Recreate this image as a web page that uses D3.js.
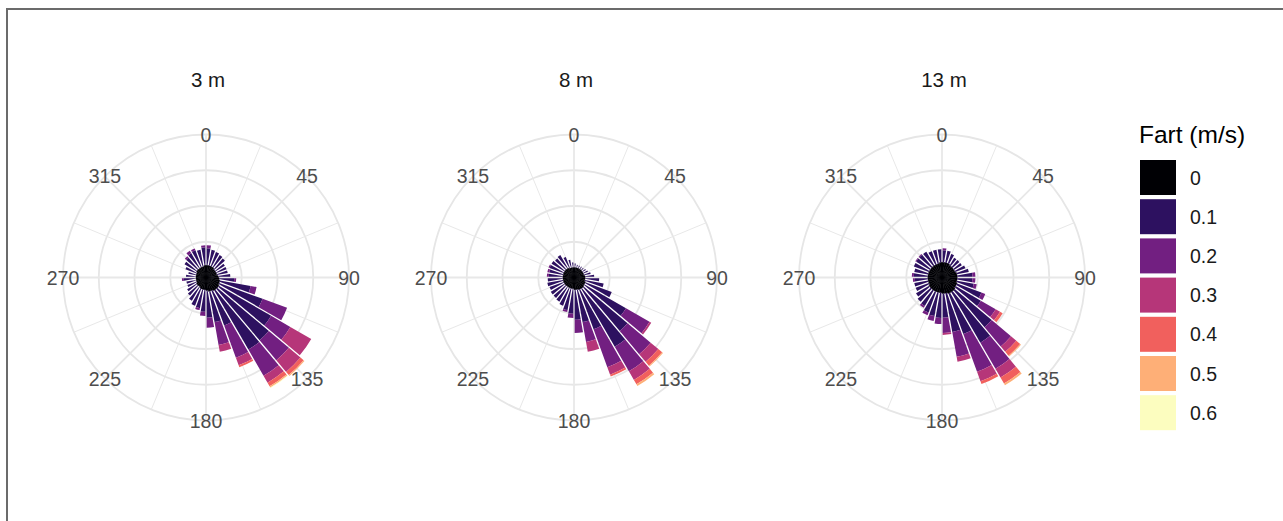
<!DOCTYPE html>
<html>
<head>
<meta charset="utf-8">
<script src="https://cdn.jsdelivr.net/npm/d3@7"></script>
<style>
  body { margin: 0; background: #fff; }
  text { font-family: "Liberation Sans", Arial, sans-serif; }
</style>
</head>
<body>
<svg id="chart" width="1283" height="521"></svg>
<script>
// direction bins (centre of each 10 degree sector)
const directions = d3.range(5, 360, 10);
const speedClasses = ["0", "0.1", "0.2", "0.3", "0.4", "0.5", "0.6"];
const speedColors = ["#000004", "#2d1160", "#721f81", "#b63679", "#f1605d", "#feaf77", "#fcfdbf"];
const panelTitles = ["3 m", "8 m", "13 m"];
const angleTicks = [0, 45, 90, 135, 180, 225, 270, 315];
const radialBreaks = [2, 4, 6, 8];

// share of observations (%) per direction bin, split by speed class 0, 0.1, ... 0.6
const freq3m = [
  [0.68, 0.96, 0.17], [0.68, 0.90], [0.68, 0.85], [0.68, 0.79], [0.62, 0.79], [0.62, 0.62],
  [0.62, 0.62], [0.62, 0.62], [0.68, 0.68], [0.73, 0.85, 0.11], [0.79, 1.75, 0.34], [0.79, 2.59, 1.46],
  [0.85, 3.38, 1.24, 1.35], [0.85, 3.77, 1.46, 0.85, 0.23, 0.06], [0.85, 3.83, 1.69, 0.45, 0.23, 0.08, 0.03],
  [0.79, 2.08, 1.92, 0.45, 0.11], [0.79, 1.75, 1.30, 0.39], [0.73, 1.52, 0.56],
  [0.68, 1.24, 0.23], [0.68, 1.07, 0.11], [0.68, 1.01], [0.62, 0.90], [0.62, 0.73], [0.62, 0.62],
  [0.56, 0.56], [0.56, 0.56], [0.56, 0.68, 0.11], [0.56, 0.56], [0.56, 0.45], [0.56, 0.68],
  [0.62, 0.79], [0.62, 0.85, 0.11], [0.62, 0.96, 0.17], [0.62, 1.01, 0.11], [0.62, 0.96], [0.68, 1.01, 0.11]
];
const freq8m = [
  [0.56, 0.23], [0.56, 0.17], [0.56, 0.17], [0.56, 0.17], [0.56, 0.17], [0.56, 0.23],
  [0.56, 0.28], [0.56, 0.39], [0.62, 0.51], [0.62, 0.79], [0.62, 1.07], [0.68, 1.58],
  [0.68, 2.70, 1.52, 0.11], [0.73, 3.21, 1.69, 0.56, 0.28, 0.06], [0.73, 3.77, 1.58, 0.56, 0.28, 0.11],
  [0.73, 2.37, 2.25, 0.45, 0.11], [0.68, 1.86, 1.13, 0.56], [0.68, 1.69, 0.73],
  [0.62, 1.41, 0.23], [0.62, 1.24, 0.11], [0.62, 1.07], [0.62, 0.96], [0.62, 0.90], [0.62, 0.90],
  [0.62, 0.85], [0.62, 0.90], [0.62, 0.85], [0.62, 0.79, 0.11], [0.62, 0.79, 0.11], [0.62, 0.85, 0.06],
  [0.62, 0.85], [0.62, 0.79], [0.62, 0.85], [0.56, 0.68], [0.56, 0.45], [0.56, 0.28]
];
const freq13m = [
  [0.85, 0.68, 0.11], [0.85, 0.68], [0.85, 0.56], [0.79, 0.51], [0.79, 0.51], [0.79, 0.51],
  [0.79, 0.62], [0.85, 0.68], [0.85, 0.85, 0.17], [0.85, 0.85, 0.17], [0.85, 0.96, 0.17], [0.90, 1.46, 0.23],
  [0.90, 1.63, 0.96, 0.28, 0.17], [0.96, 2.70, 1.41, 0.39, 0.28, 0.06], [0.96, 3.27, 1.69, 0.56, 0.39, 0.11],
  [0.96, 2.42, 2.25, 0.56, 0.17], [0.90, 2.20, 1.41, 0.28], [0.90, 1.35, 0.85, 0.11],
  [0.85, 1.41, 0.34], [0.85, 1.35, 0.28], [0.85, 1.24, 0.17], [0.85, 1.01, 0.11], [0.85, 0.96], [0.85, 0.85],
  [0.79, 0.79], [0.79, 0.79], [0.79, 0.73, 0.11], [0.79, 0.79, 0.11], [0.79, 0.79], [0.79, 0.90],
  [0.79, 0.90, 0.06], [0.79, 0.90, 0.06], [0.79, 0.90], [0.79, 0.79], [0.79, 0.79], [0.85, 0.73]
];
const panelData = [freq3m, freq8m, freq13m];

const svg = d3.select("#chart");
const toRad = d => d * Math.PI / 180;

// outer frame of the figure
svg.append("rect")
  .attr("x", 7).attr("y", 9)
  .attr("width", 1300).attr("height", 600)
  .attr("fill", "none")
  .attr("stroke", "#6b6b6b")
  .attr("stroke-width", 2);

const r = d3.scaleLinear().domain([0, 8]).range([0, 143]);
const color = d3.scaleOrdinal().domain(speedClasses).range(speedColors);
const panelX = d3.scalePoint().domain(panelTitles).range([206, 942]);
const cy = 277.5;

// thin white gap between direction sectors; the calm core stays solid
const arc = d3.arc()
  .innerRadius(d => r(d.y0))
  .outerRadius(d => r(d.y1))
  .startAngle(d => toRad(d.dir - 5))
  .endAngle(d => toRad(d.dir + 5))
  .padAngle(d => d.speed === "0" ? 0 : 0.013)
  .padRadius(100);

panelTitles.forEach((title, i) => {
  const g = svg.append("g")
    .attr("transform", `translate(${panelX(title)},${cy})`);

  // grid: circles and spokes
  g.selectAll("circle.grid")
    .data(radialBreaks)
    .join("circle")
    .attr("r", d => r(d))
    .attr("fill", "none")
    .attr("stroke", "#e6e6e6")
    .attr("stroke-width", 1.8);

  const spokes = d3.range(0, 360, 22.5);
  g.selectAll("line.spoke")
    .data(spokes)
    .join("line")
    .attr("x1", 0).attr("y1", 0)
    .attr("x2", d => r(8) * Math.sin(toRad(d)))
    .attr("y2", d => -r(8) * Math.cos(toRad(d)))
    .attr("stroke", "#e8e8e8")
    .attr("stroke-width", d => d % 45 === 0 ? 1.8 : 1);

  // stack the speed classes within each direction bin
  const segments = [];
  panelData[i].forEach((row, k) => {
    let acc = 0;
    row.forEach((v, s) => {
      segments.push({ dir: directions[k], speed: speedClasses[s], y0: acc, y1: acc + v });
      acc += v;
    });
  });

  g.selectAll("path.bar")
    .data(segments)
    .join("path")
    .attr("d", arc)
    .attr("fill", d => color(d.speed))
    .attr("stroke", d => d.speed === "0" ? color(d.speed) : "none")
    .attr("stroke-width", 0.4);

  // direction labels sit on the outer circle
  g.selectAll("text.tick")
    .data(angleTicks)
    .join("text")
    .attr("x", d => r(8) * Math.sin(toRad(d)))
    .attr("y", d => -r(8) * Math.cos(toRad(d)))
    .attr("text-anchor", "middle")
    .attr("dominant-baseline", "central")
    .attr("font-size", 19.5)
    .attr("fill", "#4d4d4d")
    .text(d => d);

  svg.append("text")
    .attr("x", panelX(title) + 2)
    .attr("y", 87)
    .attr("text-anchor", "middle")
    .attr("font-size", 20.5)
    .attr("fill", "#1a1a1a")
    .text(title);
});

// legend
const legend = svg.append("g").attr("transform", "translate(1140,0)");
legend.append("text")
  .attr("x", -1).attr("y", 143)
  .attr("font-size", 24.5)
  .attr("fill", "#000")
  .text("Fart (m/s)");

const keys = legend.selectAll("g.key")
  .data(speedClasses)
  .join("g")
  .attr("transform", (d, i) => `translate(0,${160 + i * 39.2})`);
keys.append("rect")
  .attr("width", 36).attr("height", 35)
  .attr("fill", d => color(d));
keys.append("text")
  .attr("x", 50).attr("y", 17.5)
  .attr("dominant-baseline", "central")
  .attr("font-size", 19.5)
  .attr("fill", "#1a1a1a")
  .text(d => d);
</script>
</body>
</html>
